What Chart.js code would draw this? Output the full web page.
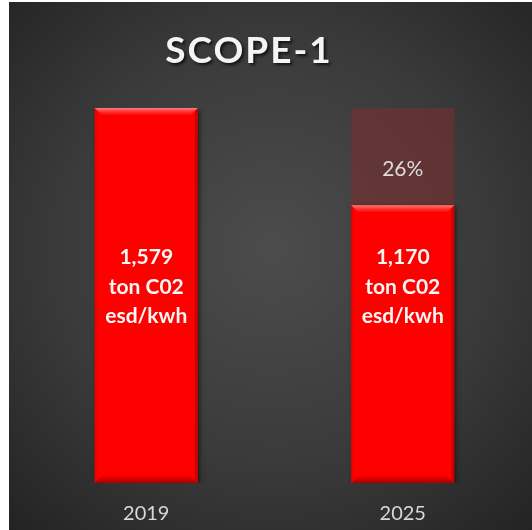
<!DOCTYPE html>
<html>
<head>
<meta charset="utf-8">
<script src="https://cdn.jsdelivr.net/npm/chart.js@4"></script>
<style>
html,body{margin:0;padding:0;background:#fff;}
#wrap{width:532px;height:530px;}
</style>
</head>
<body>
<div id="wrap"><canvas id="c" width="532" height="530"></canvas></div>
<script>
const titleText = 'SCOPE-1';
const categories = ['2019', '2025'];
const emissions = [1579, 1170];
const reduction = [0, 409];
const reductionLabels = ['', '26%'];
const barLabels = [['1,579', 'ton C02', 'esd/kwh'], ['1,170', 'ton C02', 'esd/kwh']];

const bgPlugin = {
  id: 'bg',
  beforeDraw(chart) {
    const ctx = chart.ctx;
    ctx.save();
    ctx.fillStyle = '#ffffff';
    ctx.fillRect(0, 0, chart.width, chart.height);
    const g = ctx.createRadialGradient(272, 250, 0, 272, 250, 390);
    g.addColorStop(0, '#4c4c4c');
    g.addColorStop(0.55, '#3a3a3a');
    g.addColorStop(1, '#222222');
    ctx.fillStyle = g;
    ctx.fillRect(9, 2, chart.width - 9, chart.height - 2);
    ctx.restore();
  }
};

const shadowPlugin = {
  id: 'barShadow',
  beforeDatasetDraw(chart, args) {
    if (args.index !== 0) return;
    const ctx = chart.ctx;
    ctx.save();
    ctx.shadowColor = 'rgba(0,0,0,0.55)';
    ctx.shadowBlur = 5;
    ctx.shadowOffsetX = 2;
    ctx.shadowOffsetY = 2;
  },
  afterDatasetDraw(chart, args) {
    if (args.index !== 0) return;
    chart.ctx.restore();
  }
};

const bevelPlugin = {
  id: 'bevel',
  afterDatasetDraw(chart, args) {
    if (args.index !== 0) return;
    const ctx = chart.ctx;
    const meta = chart.getDatasetMeta(0);
    const b = 7;
    meta.data.forEach(bar => {
      const p = bar.getProps(['x', 'y', 'base', 'width'], true);
      const l = p.x - p.width / 2, r = p.x + p.width / 2, t = p.y, bt = p.base;
      ctx.save();
      let g = ctx.createLinearGradient(0, t, 0, t + b);
      g.addColorStop(0, 'rgba(255,170,170,0.75)');
      g.addColorStop(1, 'rgba(255,80,80,0.15)');
      ctx.fillStyle = g;
      ctx.beginPath(); ctx.moveTo(l, t); ctx.lineTo(r, t); ctx.lineTo(r - b, t + b); ctx.lineTo(l + b, t + b); ctx.closePath(); ctx.fill();
      g = ctx.createLinearGradient(0, bt - b, 0, bt);
      g.addColorStop(0, 'rgba(120,0,0,0.1)');
      g.addColorStop(1, 'rgba(110,0,0,0.6)');
      ctx.fillStyle = g;
      ctx.beginPath(); ctx.moveTo(l, bt); ctx.lineTo(r, bt); ctx.lineTo(r - b, bt - b); ctx.lineTo(l + b, bt - b); ctx.closePath(); ctx.fill();
      ctx.fillStyle = 'rgba(170,0,0,0.18)';
      ctx.beginPath(); ctx.moveTo(l, t); ctx.lineTo(l + 3, t + 3); ctx.lineTo(l + 3, bt - 3); ctx.lineTo(l, bt); ctx.closePath(); ctx.fill();
      ctx.fillStyle = 'rgba(120,0,0,0.35)';
      ctx.beginPath(); ctx.moveTo(r, t); ctx.lineTo(r - 3, t + 3); ctx.lineTo(r - 3, bt - 3); ctx.lineTo(r, bt); ctx.closePath(); ctx.fill();
      ctx.restore();
    });
  }
};

const labelPlugin = {
  id: 'labels',
  afterDatasetsDraw(chart) {
    const ctx = chart.ctx;
    const ca = chart.chartArea;
    const m0 = chart.getDatasetMeta(0);
    const m1 = chart.getDatasetMeta(1);
    ctx.save();
    ctx.textAlign = 'center';
    ctx.textBaseline = 'alphabetic';
    ctx.save();
    ctx.font = 'bold 37px Lato';
    ctx.letterSpacing = '2px';
    ctx.fillStyle = '#f4f4f4';
    ctx.shadowColor = 'rgba(0,0,0,0.7)';
    ctx.shadowBlur = 3;
    ctx.shadowOffsetX = 2;
    ctx.shadowOffsetY = 2;
    ctx.fillText(titleText, 249, 63);
    ctx.restore();
    ctx.font = 'bold 21px Lato';
    ctx.fillStyle = '#f8f8f8';
    const mid = (ca.top + ca.bottom) / 2;
    m0.data.forEach((bar, i) => {
      const lines = barLabels[i];
      const gap = 29.5;
      const start = mid - 2 - gap * (lines.length - 1) / 2;
      lines.forEach((ln, k) => ctx.fillText(ln, bar.x, start + k * gap));
    });
    ctx.font = '21px Lato';
    ctx.fillStyle = '#dcdcdc';
    m1.data.forEach((bar, i) => {
      if (!reductionLabels[i]) return;
      const p = bar.getProps(['x', 'y', 'base'], true);
      ctx.fillText(reductionLabels[i], p.x, (p.y + p.base) / 2 + 19);
    });
    ctx.restore();
  }
};

new Chart(document.getElementById('c'), {
  type: 'bar',
  data: {
    labels: categories,
    datasets: [
      {
        label: 'Emissions',
        data: emissions,
        backgroundColor: '#ff0000',
        borderWidth: 0,
        barPercentage: 0.402,
        categoryPercentage: 1
      },
      {
        label: 'Reduction',
        data: reduction,
        backgroundColor: 'rgba(125,45,45,0.55)',
        borderWidth: 0,
        barPercentage: 0.402,
        categoryPercentage: 1
      }
    ]
  },
  options: {
    responsive: false,
    animation: false,
    devicePixelRatio: 1,
    layout: { padding: { left: 18, right: 1, top: 108, bottom: 5 } },
    plugins: {
      legend: { display: false },
      title: { display: false },
      tooltip: { enabled: false }
    },
    scales: {
      x: {
        stacked: true,
        grid: { display: false, drawTicks: false },
        border: { display: false },
        ticks: { color: '#d8d8d8', font: { family: 'Lato', size: 20 }, padding: 19 },
        afterFit(scale) { scale.height = 42; }
      },
      y: {
        stacked: true,
        display: false,
        min: 0,
        max: 1579
      }
    }
  },
  plugins: [bgPlugin, shadowPlugin, bevelPlugin, labelPlugin]
});
</script>
</body>
</html>
